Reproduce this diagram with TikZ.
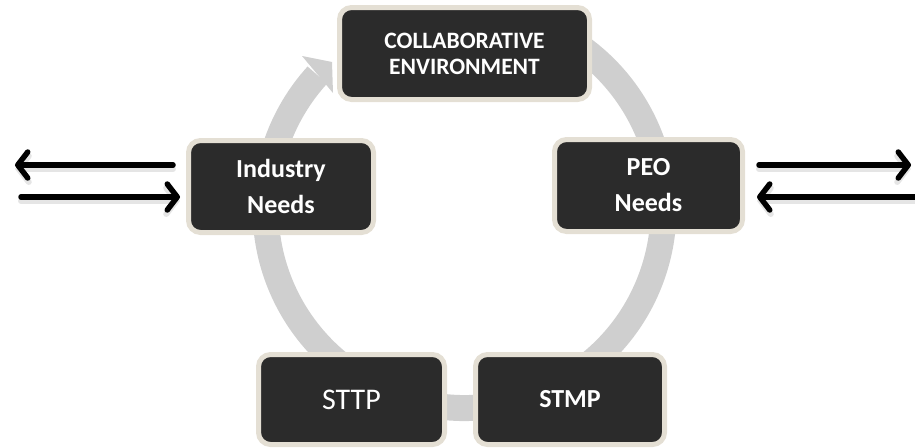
\documentclass[tikz,border=0pt]{standalone}
\usepackage{fontspec}
\setmainfont{Carlito}
\usetikzlibrary{arrows.meta,calc}
\definecolor{boxdark}{HTML}{2B2B2B}
\definecolor{boxrim}{HTML}{E4DFD4}
\definecolor{ringgray}{HTML}{CFCFCF}
\tikzset{
  cyclebox/.style={draw=boxrim, line width=5pt, fill=boxdark, rounded corners=12pt,
    text=white, align=center, inner sep=0pt},
  ringband/.style={draw=ringgray, line width=26pt},
  flowarrow/.style={draw=black, line width=5.5pt, line cap=round,
    -{Straight Barb[length=10pt,width=26pt,line width=5.5pt,line cap=round,line join=round]}},
  flowshadow/.style={draw=black!20, opacity=0.5, line width=6pt, line cap=round,
    -{Straight Barb[length=10pt,width=26pt,line width=6pt,line cap=round]}}
}
\begin{document}
\begin{tikzpicture}[x=1pt,y=-1pt]
\useasboundingbox (0,0) rectangle (915,447);
% ring with arrow
\coordinate (rc) at (464.5,209);
\draw[ringband] (rc) ++(-70:199) arc[start angle=-70, end angle=222.3, radius=199];
\fill[ringgray] (302,56) -- (332,62) -- (333,93) -- cycle;
% boxes
\node[cyclebox, minimum width=250pt, minimum height=92pt,
  font=\fontsize{23.5}{26}\selectfont\bfseries] (collab) at (464.5,53.5)
  {COLLABORATIVE\\ENVIRONMENT};
\node[cyclebox, minimum width=185pt, minimum height=92pt,
  font=\fontsize{26}{36}\selectfont\bfseries] (ind) at (281,186.5)
  {Industry\\Needs};
\node[cyclebox, minimum width=188pt, minimum height=92pt,
  font=\fontsize{26}{36}\selectfont\bfseries] (peo) at (648.5,185.5)
  {PEO\\Needs};
\node[cyclebox, minimum width=186pt, minimum height=90pt,
  font=\fontsize{30}{34}\selectfont] (sttp) at (351.5,399.5)
  {STTP};
\node[cyclebox, minimum width=189pt, minimum height=90pt,
  font=\fontsize{26}{30}\selectfont\bfseries] (stmp) at (570,399.5)
  {STMP};
% free ends
\coordinate (lout) at (15,165);
\coordinate (lin) at (21,197);
\coordinate (rout) at (911,165);
\coordinate (rin) at (913,197);
% shadows
\draw[flowshadow] ($(ind.west |- lout)+(-13,4)$) -- ($(lout)+(0,4)$);
\draw[flowshadow] ($(lin)+(0,4)$) -- ($(ind.west |- lin)+(-6,4)$);
\draw[flowshadow] ($(peo.east |- rout)+(14,4)$) -- ($(rout)+(0,4)$);
\draw[flowshadow] ($(rin)+(2,4)$) -- ($(peo.east |- rin)+(12,4)$);
% arrows
\draw[flowarrow] ($(ind.west |- lout)+(-13,0)$) -- (lout);
\draw[flowarrow] (lin) -- ($(ind.west |- lin)+(-6,0)$);
\draw[flowarrow] ($(peo.east |- rout)+(14,0)$) -- (rout);
\draw[flowarrow] ($(rin)+(2,0)$) -- ($(peo.east |- rin)+(12,0)$);
\end{tikzpicture}
\end{document}
